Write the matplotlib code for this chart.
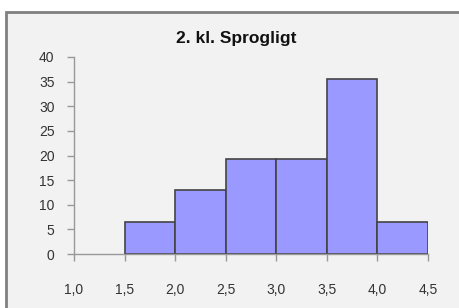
import matplotlib
matplotlib.use("Agg")
from matplotlib import pyplot as plt
from matplotlib.patches import Rectangle

# histogram data (percent of pupils per score interval)
bin_edges = [1.5, 2.0, 2.5, 3.0, 3.5, 4.0, 4.5]
percents = [6.45, 12.9, 19.35, 19.35, 35.48, 6.45]
x_ticks = [1.0, 1.5, 2.0, 2.5, 3.0, 3.5, 4.0, 4.5]
x_labels = ["1,0", "1,5", "2,0", "2,5", "3,0", "3,5", "4,0", "4,5"]
y_ticks = [0, 5, 10, 15, 20, 25, 30, 35, 40]
title = "2. kl. Sprogligt"

plt.rcParams['font.family'] = ['Liberation Sans', 'DejaVu Sans']

W, H = 460, 308
fig = plt.figure(figsize=(W / 100, H / 100), dpi=100)
fig.patch.set_facecolor("white")

# chart area frame (gray border, light gray fill), drawn behind the axes
frame = Rectangle((6.5 / W, -0.05), 1.0, (H - 11.5) / H + 0.05, transform=fig.transFigure,
                  facecolor="#f2f2f2", edgecolor="#808080", linewidth=2, zorder=-1)
fig.patches.append(frame)

ax = fig.add_axes([74 / W, (H - 254) / H, (428 - 74) / W, (254 - 57) / H])
ax.set_facecolor("none")
ax.set_zorder(1)

widths = [bin_edges[i + 1] - bin_edges[i] for i in range(len(percents))]
ax.bar(bin_edges[:-1], percents, width=widths, align="edge",
       color="#9999ff", edgecolor="#444444", linewidth=1.2, zorder=3)

ax.set_xlim(1.0, 4.5)
ax.set_ylim(0, 40)
ax.set_xticks(x_ticks)
ax.set_xticklabels(x_labels)
ax.set_yticks(y_ticks)

for s in ["top", "right"]:
    ax.spines[s].set_visible(False)
for s in ["left", "bottom"]:
    ax.spines[s].set_color("#999999")
    ax.spines[s].set_linewidth(1)
    ax.spines[s].set_zorder(4)

ax.tick_params(axis="x", direction="out", length=5, width=1, color="#999999",
               pad=16, labelsize=10, labelcolor="#333333")
ax.tick_params(axis="y", direction="out", length=5, width=1, color="#999999",
               pad=9, labelsize=10, labelcolor="#333333")

fig.text(236 / W, (H - 38) / H, title, ha="center", va="center",
         fontsize=12.5, fontweight="bold", color="#111111")

fig.savefig("out.png", dpi=100, facecolor="white")
